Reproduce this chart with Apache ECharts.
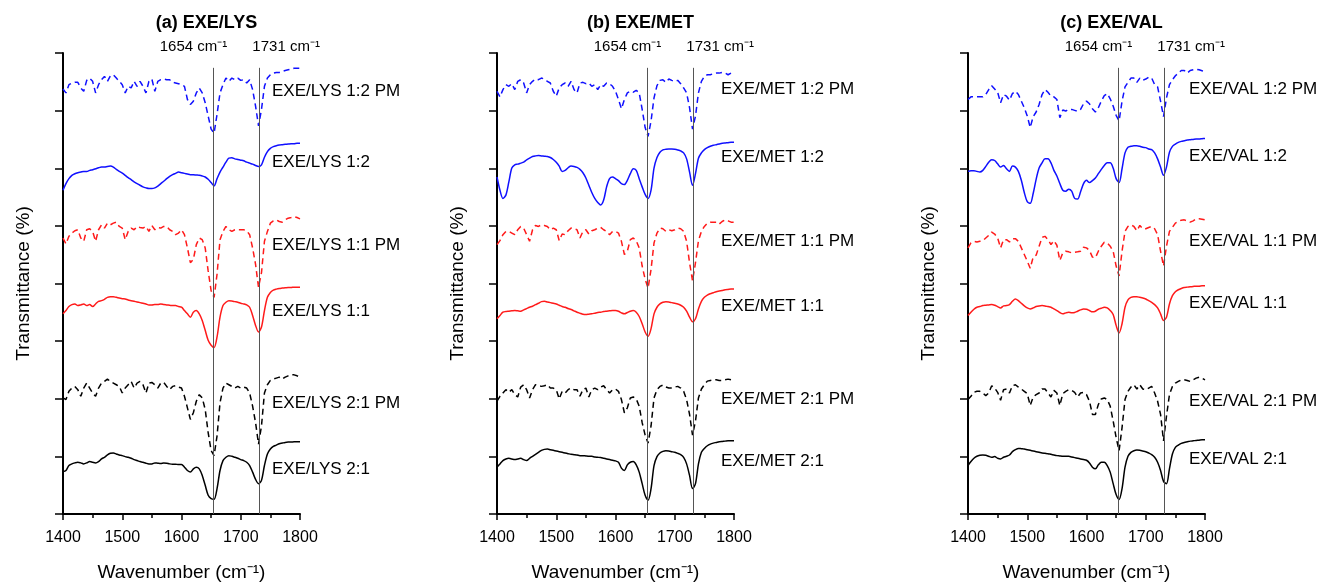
<!DOCTYPE html>
<html>
<head>
<meta charset="utf-8">
<script src="https://cdn.jsdelivr.net/npm/echarts@6/dist/echarts.min.js"></script>
<style>
html,body{margin:0;padding:0;background:#fff;}
#c{width:1323px;height:587px;}
</style>
</head>
<body>
<div id="c"></div>
<script>
// Wavenumber sampling grid (cm-1)
const wavenumbers = [1400,1405,1410,1415,1420,1425,1430,1435,1440,1445,1450,1455,1460,1465,1470,1475,1480,1485,1490,1495,
1500,1505,1510,1515,1520,1525,1530,1535,1540,1545,1550,1555,1560,1565,1570,1575,1580,1585,1590,1595,
1600,1605,1610,1615,1620,1625,1630,1635,1640,1645,1650,1655,1660,1665,1670,1675,1680,1685,1690,1695,
1700,1705,1710,1715,1720,1725,1730,1735,1740,1745,1750,1755,1760,1765,1770,1775,1780,1785,1790,1795,1800];
const xTicks = [1400,1500,1600,1700,1800];
const markerBands = [1654, 1731];
const panelTitles = ['(a) EXE/LYS','(b) EXE/MET','(c) EXE/VAL'];
const seriesSuffix = ['1:2 PM','1:2','1:1 PM','1:1','2:1 PM','2:1'];
const panelPrefix = ['EXE/LYS','EXE/MET','EXE/VAL'];

// Transmittance, arbitrary stacked units
const lys12pm = [1289,1277,1302,1307,1309,1309,1292,1282,1315,1322,1312,1277,1302,1317,1327,1312,1329,1332,1322,1312,
1302,1277,1297,1292,1312,1297,1312,1297,1277,1312,1319,1282,1312,1317,1319,1317,1317,1309,1307,1305,
1302,1297,1257,1242,1252,1277,1292,1277,1247,1207,1167,1155,1212,1277,1302,1322,1312,1322,1317,1322,
1315,1317,1307,1317,1287,1237,1177,1227,1297,1322,1332,1337,1339,1339,1342,1345,1347,1349,1352,1352,1352];
const lys12 = [982,1002,1017,1027,1032,1035,1037,1039,1039,1042,1044,1047,1050,1052,1052,1054,1055,1052,1045,1039,
1034,1027,1020,1014,1007,1002,997,992,989,987,987,989,994,1002,1009,1017,1024,1029,1033,1037,
1035,1033,1031,1029,1029,1028,1027,1025,1022,1015,1005,995,1017,1037,1052,1067,1079,1080,1077,1075,
1073,1071,1067,1064,1061,1057,1054,1059,1082,1099,1109,1114,1117,1119,1120,1121,1122,1123,1123,1124,1124];
const lys11pm = [837,819,842,852,859,862,837,827,862,865,857,827,862,877,867,882,877,882,885,872,
867,832,857,867,862,872,869,867,872,857,875,862,869,867,872,872,862,857,847,852,
862,847,807,762,772,817,837,832,807,737,677,657,727,832,857,872,862,857,862,862,
862,862,859,847,807,757,687,732,827,857,882,889,892,887,885,892,897,899,902,899,895];
const lys11 = [607,617,629,635,637,632,634,637,632,635,629,637,645,647,651,657,659,659,657,655,
653,652,649,647,645,643,641,639,637,634,634,635,635,637,635,634,633,632,632,629,
627,617,607,597,612,617,607,587,557,527,512,505,537,597,632,642,647,646,644,642,
639,637,634,627,602,572,552,567,617,657,672,679,682,684,685,686,687,687,688,688,688];
const lys21pm = [352,347,372,382,387,377,357,382,397,382,367,357,382,397,402,409,402,397,392,387,
367,382,392,402,382,397,402,392,367,397,399,392,382,397,399,387,377,387,389,385,
382,357,322,287,307,342,362,352,317,247,192,177,237,337,382,397,392,387,382,387,
382,385,382,367,327,277,212,267,367,392,405,409,412,415,409,415,419,422,422,419,415];
const lys21 = [129,132,147,152,155,157,155,152,155,159,157,155,159,167,172,179,184,185,182,179,
177,174,172,169,165,162,159,157,154,152,152,155,154,153,155,154,152,151,151,150,
150,142,132,127,137,142,137,117,87,57,47,45,77,132,162,172,177,175,172,169,
165,162,157,147,127,105,92,102,147,182,197,205,209,213,215,217,218,218,219,219,219];

const met12pm = [1282,1265,1287,1302,1297,1305,1287,1312,1317,1307,1277,1302,1312,1319,1317,1322,1319,1312,1307,1282,
1267,1292,1302,1307,1297,1312,1287,1277,1307,1309,1305,1307,1297,1302,1287,1302,1297,1307,1305,1297,
1282,1257,1229,1257,1277,1282,1279,1285,1277,1227,1172,1145,1192,1262,1299,1315,1317,1309,1319,1315,
1312,1315,1305,1292,1277,1232,1167,1207,1277,1312,1327,1332,1332,1335,1337,1337,1339,1337,1332,1337,1335];
const met12 = [1022,982,957,967,1007,1049,1059,1061,1064,1067,1074,1079,1084,1086,1087,1086,1085,1084,1081,1075,
1067,1055,1039,1042,1050,1055,1054,1051,1045,1035,1019,997,975,957,945,937,952,992,1017,1022,
1017,1011,1002,999,1012,1032,1047,1042,1017,992,969,957,982,1049,1081,1097,1104,1106,1107,1107,
1106,1104,1101,1095,1077,1037,997,1032,1079,1095,1105,1111,1115,1118,1120,1122,1124,1125,1126,1127,1127];
const met11pm = [817,829,847,857,857,852,847,862,872,867,847,827,862,875,872,877,875,872,862,867,
862,829,849,847,859,867,865,862,837,857,862,849,859,862,867,869,862,857,847,857,
857,852,827,787,797,832,837,829,807,752,712,685,742,822,852,867,865,857,862,859,
862,867,865,857,827,762,707,762,829,857,872,882,885,885,885,879,887,892,889,885,885];
const met11 = [592,602,612,614,615,616,617,616,615,619,623,627,630,635,639,644,645,643,641,639,
637,633,629,627,623,620,616,612,609,606,605,606,607,609,611,612,614,615,616,617,
617,615,610,607,611,615,617,612,599,577,552,539,562,607,627,637,642,644,643,641,
639,637,633,627,615,597,583,592,622,645,657,664,668,671,674,676,678,680,681,682,682];
const met21pm = [342,357,367,377,369,377,362,355,385,392,377,352,377,392,389,387,389,392,382,382,
377,349,372,367,377,382,377,377,357,377,382,355,377,382,377,385,389,377,367,377,
379,372,347,307,322,352,355,349,327,277,239,215,267,352,377,387,391,385,382,382,
385,387,382,372,347,302,239,282,352,379,392,403,405,407,407,405,405,407,409,407,405];
const met21 = [142,152,162,167,169,167,165,167,169,165,162,169,175,181,187,193,196,197,195,193,
191,189,187,185,183,181,180,179,177,177,176,175,175,173,172,171,169,167,165,163,
161,157,139,132,149,157,159,149,127,92,57,42,77,147,174,185,190,192,191,189,
187,184,180,172,152,117,77,92,152,187,199,207,212,215,217,219,220,221,222,222,222];

const val12pm = [1257,1265,1265,1265,1265,1265,1272,1287,1299,1289,1279,1247,1272,1267,1255,1275,1282,1272,1252,1232,
1207,1172,1205,1219,1242,1272,1287,1279,1267,1265,1257,1202,1225,1222,1227,1227,1224,1221,1227,1244,
1252,1244,1229,1219,1232,1252,1269,1275,1259,1237,1209,1192,1252,1295,1309,1322,1322,1309,1322,1315,
1319,1325,1322,1302,1295,1252,1205,1262,1302,1317,1329,1337,1345,1345,1337,1345,1347,1349,1347,1344,1341];
const val12 = [1039,1041,1041,1039,1037,1042,1054,1067,1074,1072,1062,1052,1057,1047,1039,1055,1052,1039,1012,975,
947,942,972,1015,1049,1065,1077,1077,1065,1042,1025,1002,982,979,985,979,957,955,977,1002,
1012,1005,1011,1019,1032,1045,1057,1065,1065,1049,1017,1005,1047,1095,1112,1115,1117,1117,1115,1112,
1111,1107,1105,1095,1077,1052,1027,1052,1097,1115,1122,1127,1130,1132,1134,1135,1136,1137,1137,1138,1139];
const val11pm = [807,822,827,825,827,829,837,845,855,849,837,807,832,832,825,835,835,827,807,787,
767,745,779,785,812,839,842,832,817,829,815,769,792,797,795,792,794,795,797,809,
807,799,779,777,797,812,824,822,812,797,752,722,797,857,872,877,872,859,875,865,
865,869,872,865,847,797,752,812,857,869,882,887,891,892,889,885,889,895,895,894,892];
const val11 = [602,612,621,627,629,632,633,634,635,633,629,625,631,632,635,645,652,647,639,631,
625,622,625,629,631,632,631,629,627,622,617,611,607,610,612,610,611,615,619,622,
621,617,613,615,621,624,627,625,617,605,572,549,577,627,649,657,659,659,657,655,
652,647,642,635,625,607,587,597,637,662,674,680,684,687,688,689,690,691,691,692,692];
const val21pm = [347,357,369,372,372,367,359,367,389,382,369,345,377,379,367,389,392,385,379,372,
365,329,355,362,367,379,379,367,355,375,367,329,365,372,377,375,369,355,367,369,
362,342,302,302,332,349,352,347,327,282,232,192,262,347,372,385,392,379,392,379,
377,382,387,367,342,302,222,297,362,387,397,402,407,407,405,402,407,412,415,412,407];
const val21 = [147,159,169,175,178,179,178,175,172,174,169,167,172,175,179,189,195,199,198,197,
195,193,191,189,187,185,184,183,181,179,177,176,175,175,175,173,171,169,167,165,
163,155,142,137,149,157,157,147,127,92,59,44,77,142,175,187,192,194,193,191,
189,185,180,172,157,132,99,92,137,182,202,209,214,217,219,221,222,223,224,225,225];

const panelData = [
  [lys12pm, lys12, lys11pm, lys11, lys21pm, lys21],
  [met12pm, met12, met11pm, met11, met21pm, met21],
  [val12pm, val12, val11pm, val11, val21pm, val21]
];

// ---- layout / style ----
const FONT = '"Liberation Sans", Arial, sans-serif';
const colors = ['#1010ff','#1010ff','#ff1a1a','#ff1a1a','#000000','#000000'];
const dashed = [true,false,true,false,true,false];
const grids = [
  {left: 63, top: 53, width: 237, height: 466},
  {left: 497, top: 53, width: 237, height: 466},
  {left: 968, top: 53, width: 237, height: 466}
];
const Y_MAX = 1398, Y_INT = 174.75, LINE_TOP = 1353;
const labelDx = [209, 224, 221];
const labelYs = [
  [91, 162, 245, 311, 403, 469],
  [89, 157, 241, 306, 399, 461],
  [89, 156, 241, 303, 401, 459]
];

const chart = echarts.init(document.getElementById('c'), null, {renderer: 'canvas'});

const option = {
  animation: false,
  backgroundColor: '#fff',
  grid: grids.map(g => Object.assign({containLabel: false}, g)),
  xAxis: grids.map((g, i) => ({
    type: 'value', gridIndex: i, min: 1400, max: 1800, interval: 100,
    name: 'Wavenumber (cm\u207B\u00B9)', nameLocation: 'middle', nameGap: 49,
    nameTextStyle: {fontSize: 19, color: '#000', fontFamily: FONT},
    axisLine: {show: true, onZero: false, lineStyle: {color: '#000', width: 2}},
    axisTick: {show: true, length: 6, lineStyle: {color: '#000', width: 1.5}},
    minorTick: {show: true, splitNumber: 2, length: 4, lineStyle: {color: '#000', width: 1.5}},
    axisLabel: {fontSize: 16, color: '#000', margin: 16, fontFamily: FONT,
      formatter: v => (xTicks.indexOf(v) >= 0 ? String(v) : '')},
    splitLine: {show: false}, minorSplitLine: {show: false}
  })),
  yAxis: grids.map((g, i) => ({
    type: 'value', gridIndex: i, min: 0, max: Y_MAX, interval: Y_INT,
    name: 'Transmittance (%)', nameLocation: 'middle', nameGap: 30,
    nameTextStyle: {fontSize: 19, color: '#000', fontFamily: FONT},
    axisLine: {show: true, onZero: false, lineStyle: {color: '#000', width: 2}},
    axisTick: {show: true, length: 8, lineStyle: {color: '#000', width: 1.5}},
    axisLabel: {show: false},
    splitLine: {show: false}
  })),
  series: []
};

panelData.forEach((arrs, p) => {
  arrs.forEach((vals, k) => {
    const s = {
      type: 'line', name: panelPrefix[p] + ' ' + seriesSuffix[k],
      xAxisIndex: p, yAxisIndex: p,
      data: wavenumbers.map((w, i) => [w, vals[i]]),
      showSymbol: false, symbol: 'none',
      smooth: dashed[k] ? false : 0.3,
      lineStyle: {color: colors[k], width: 1.5, type: dashed[k] ? [6, 4] : 'solid'},
      z: 3
    };
    if (k === 0) {
      s.markLine = {
        silent: true, symbol: ['none', 'none'], animation: false,
        label: {show: false},
        lineStyle: {color: '#555', width: 1, type: 'solid'},
        data: markerBands.map(b => [{coord: [b, 0]}, {coord: [b, LINE_TOP]}])
      };
    }
    option.series.push(s);
  });
});

chart.setOption(option);

// Text annotations placed relative to the axes
const graphics = [];
grids.forEach((g, p) => {
  const x1654 = chart.convertToPixel({xAxisIndex: p}, markerBands[0]);
  const x1731 = chart.convertToPixel({xAxisIndex: p}, markerBands[1]);
  const xMid = (chart.convertToPixel({xAxisIndex: p}, 1400) + chart.convertToPixel({xAxisIndex: p}, 1800)) / 2;
  graphics.push({type: 'text', style: {text: panelTitles[p], x: xMid + 25, y: 23, align: 'center', verticalAlign: 'middle',
    fontSize: 18, fontWeight: 'bold', fontFamily: FONT, fill: '#000'}});
  graphics.push({type: 'text', style: {text: markerBands[0] + ' cm\u207B\u00B9', x: x1654 - 20, y: 47, align: 'center', verticalAlign: 'middle',
    fontSize: 15, fontFamily: FONT, fill: '#000'}});
  graphics.push({type: 'text', style: {text: markerBands[1] + ' cm\u207B\u00B9', x: x1731 + 27, y: 47, align: 'center', verticalAlign: 'middle',
    fontSize: 15, fontFamily: FONT, fill: '#000'}});
  seriesSuffix.forEach((sfx, k) => {
    graphics.push({type: 'text', z: 10, style: {text: panelPrefix[p] + ' ' + sfx, x: g.left + labelDx[p], y: labelYs[p][k],
      align: 'left', verticalAlign: 'middle', fontSize: 17, fontFamily: FONT, fill: '#000'}});
  });
});
chart.setOption({graphic: graphics});
</script>
</body>
</html>
